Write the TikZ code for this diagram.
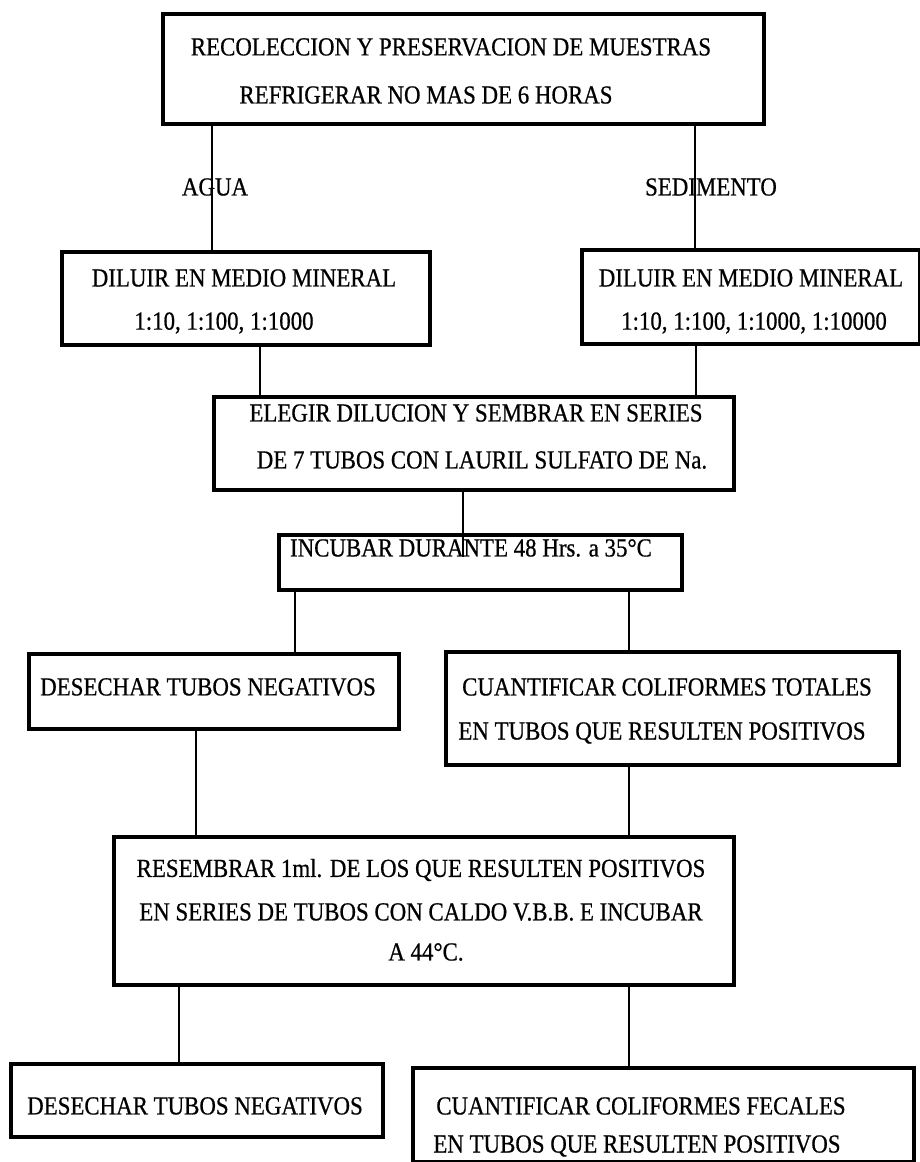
\documentclass[tikz,border=0pt]{standalone}
\usepackage{fontspec}
\setmainfont[FakeStretch=0.88,FakeBold=0.6]{Liberation Serif}
\begin{document}
\begin{tikzpicture}[x=1pt,y=-1pt,
  box/.style={draw, line width=4pt, inner sep=0pt, anchor=north west},
  conn/.style={draw, line width=1.8pt},
  txt/.style={inner sep=0pt, font=\fontsize{26}{31}\selectfont}]
\useasboundingbox (0,0) rectangle (920,1162);
% boxes
\node[box, minimum width=601pt, minimum height=110pt] (b1) at (161,12) {};
\node[box, minimum width=368pt, minimum height=93pt] (dl) at (60,250) {};
\node[box, minimum width=338pt, minimum height=94pt] (dr) at (580,248) {};
\node[box, minimum width=520pt, minimum height=93pt] (el) at (212,395) {};
\node[box, minimum width=403pt, minimum height=55pt] (inc) at (277,533) {};
\node[box, minimum width=370pt, minimum height=75pt] (d1) at (27,652) {};
\node[box, minimum width=453pt, minimum height=113pt] (ct) at (444,650) {};
\node[box, minimum width=620pt, minimum height=148pt] (rs) at (112,835) {};
\node[box, minimum width=372pt, minimum height=73pt] (d2) at (9,1062) {};
\node[box, minimum width=501pt, minimum height=94pt] (cf) at (411,1066) {};
% texts
\node[txt] (t1a) at (451,47) {RECOLECCION Y PRESERVACION DE MUESTRAS};
\node[txt] (t1b) at (426,95) {REFRIGERAR NO MAS DE 6 HORAS};
\node[txt] (agua) at (215,187) {AGUA};
\node[txt] (sed) at (711,187) {SEDIMENTO};
\node[txt] (tdla) at (244,278) {DILUIR EN MEDIO MINERAL};
\node[txt] (tdlb) at (224,323) {1:10, 1:100, 1:1000};
\node[txt] (tdra) at (751,278) {DILUIR EN MEDIO MINERAL};
\node[txt] (tdrb) at (754,323) {1:10, 1:100, 1:1000, 1:10000};
\node[txt] (tela) at (476,413) {ELEGIR DILUCION Y SEMBRAR EN SERIES};
\node[txt] (telb) at (482,460) {DE 7 TUBOS CON LAURIL SULFATO DE Na.};
\node[txt] (tinc) at (471,548) {INCUBAR DURANTE 48 Hrs. a 35°C};
\node[txt] (td1) at (208,687) {DESECHAR TUBOS NEGATIVOS};
\node[txt] (tcta) at (667,687) {CUANTIFICAR COLIFORMES TOTALES};
\node[txt] (tctb) at (662,733) {EN TUBOS QUE RESULTEN POSITIVOS};
\node[txt] (trsa) at (421,870) {RESEMBRAR 1ml. DE LOS QUE RESULTEN POSITIVOS};
\node[txt] (trsb) at (421,912) {EN SERIES DE TUBOS CON CALDO V.B.B. E INCUBAR};
\node[txt] (trsc) at (426,952) {A 44°C.};
\node[txt] (td2) at (195,1106) {DESECHAR TUBOS NEGATIVOS};
\node[txt] (tcfa) at (641,1106) {CUANTIFICAR COLIFORMES FECALES};
\node[txt] (tcfb) at (637,1146) {EN TUBOS QUE RESULTEN POSITIVOS};
% x positions of connectors
\coordinate (xa) at (212,0);
\coordinate (xb) at (695,0);
\coordinate (xc) at (260,0);
\coordinate (xd) at (696,0);
\coordinate (xe) at (463,0);
\coordinate (xf) at (295,0);
\coordinate (xg) at (629,0);
\coordinate (xh) at (196,0);
\coordinate (xi) at (179,0);
% connectors
\draw[conn] (b1.south -| xa) -- (dl.north -| xa);
\draw[conn] (b1.south -| xb) -- (dr.north -| xb);
\draw[conn] (dl.south -| xc) -- (el.north -| xc);
\draw[conn] (dr.south -| xd) -- (el.north -| xd);
\draw[conn] (el.south -| xe) -- (tinc.south -| xe);
\draw[conn] (inc.south -| xf) -- (d1.north -| xf);
\draw[conn] (inc.south -| xg) -- (ct.north -| xg);
\draw[conn] (d1.south -| xh) -- (rs.north -| xh);
\draw[conn] (ct.south -| xg) -- (rs.north -| xg);
\draw[conn] (rs.south -| xi) -- (d2.north -| xi);
\draw[conn] (rs.south -| xg) -- (cf.north -| xg);
\end{tikzpicture}
\end{document}
